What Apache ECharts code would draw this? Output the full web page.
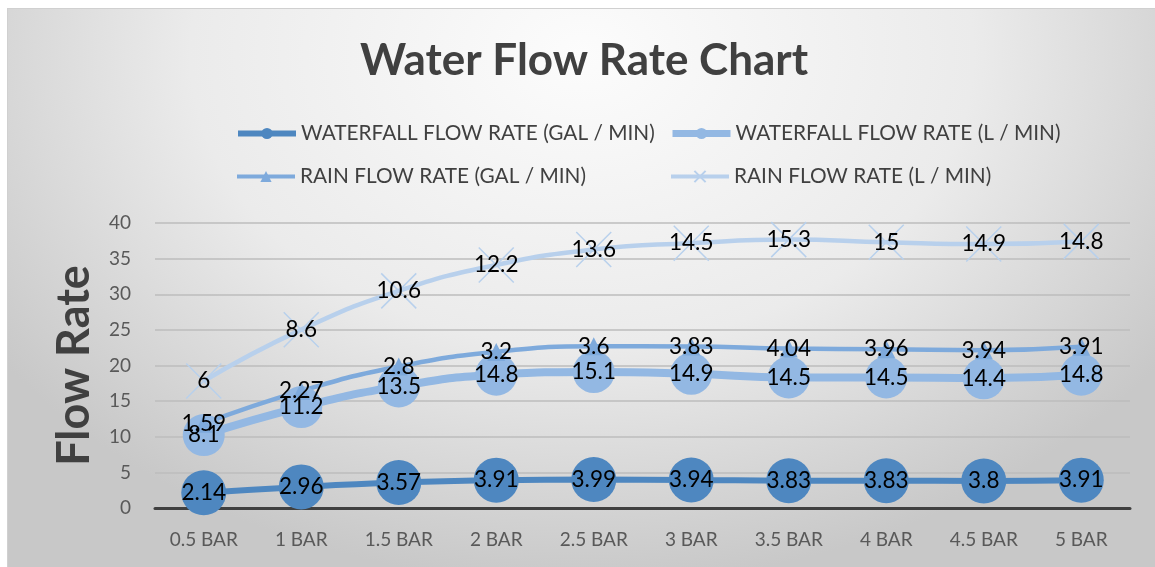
<!DOCTYPE html>
<html>
<head>
<meta charset="utf-8">
<script src="https://cdn.jsdelivr.net/npm/echarts@6/dist/echarts.min.js"></script>
<style>
  html, body { margin: 0; padding: 0; background: #ffffff; }
  #bg {
    position: absolute; left: 7px; top: 8px; width: 1148px; height: 559px;
    border-left: 1px solid #d0d0d0; border-top: 1px solid #d0d0d0;
    background: radial-gradient(ellipse 62% 95% at 50% 8%, #fcfcfc 0%, #ebebeb 55%, #c8c8c8 100%);
  }
  #main { position: absolute; left: 0; top: 0; width: 1155px; height: 567px; }
</style>
</head>
<body>
<div id="bg"></div>
<div id="main"></div>
<script>
// 数据
var categories = ['0.5 BAR', '1 BAR', '1.5 BAR', '2 BAR', '2.5 BAR', '3 BAR', '3.5 BAR', '4 BAR', '4.5 BAR', '5 BAR'];
var seriesNames = ['WATERFALL FLOW RATE (GAL / MIN)', 'WATERFALL FLOW RATE (L / MIN)', 'RAIN FLOW RATE (GAL / MIN)', 'RAIN FLOW RATE (L / MIN)'];
var waterfallGal = [2.14, 2.96, 3.57, 3.91, 3.99, 3.94, 3.83, 3.83, 3.8, 3.91];
var waterfallL = [8.1, 11.2, 13.5, 14.8, 15.1, 14.9, 14.5, 14.5, 14.4, 14.8];
var rainGal = [1.59, 2.27, 2.8, 3.2, 3.6, 3.83, 4.04, 3.96, 3.94, 3.91];
var rainL = [6, 8.6, 10.6, 12.2, 13.6, 14.5, 15.3, 15, 14.9, 14.8];
var yTicks = { min: 0, max: 40, interval: 5 };

(function(){
  var myChart = echarts.init(document.getElementById('main'));
  var fontFam = 'Lato, "Open Sans", sans-serif';
  var labelStyle = {
    show: true,
    position: 'inside',
    color: '#000000',
    fontSize: 22.5,
    fontFamily: fontFam
  };
  var legendText = { color: '#404040', fontSize: 20.8, fontFamily: fontFam };
  // 每个图例单独摆放, 两列对齐
  function oneLegend(name, left, top, lw) {
    return {
      data: [name], left: left, top: top,
      itemWidth: 58, itemHeight: 14, itemGap: 5,
      lineStyle: { width: lw },
      textStyle: legendText
    };
  }
  var option = {
    backgroundColor: 'transparent',
    animation: false,
    title: {
      text: 'Water Flow Rate Chart',
      left: 355,
      top: 34,
      textStyle: { color: '#404040', fontSize: 44, fontWeight: 'bold', fontFamily: fontFam }
    },
    legend: [
      oneLegend(seriesNames[0], 230, 118, 6),
      oneLegend(seriesNames[1], 664, 118, 7),
      oneLegend(seriesNames[2], 230, 161, 4),
      oneLegend(seriesNames[3], 664, 161, 4)
    ],
    grid: { left: 155, right: 25, top: 223, bottom: 59 },
    xAxis: {
      type: 'category',
      data: categories,
      boundaryGap: true,
      axisLine: { lineStyle: { color: '#404040', width: 3 } },
      axisTick: { show: false },
      axisLabel: { color: '#595959', fontSize: 19, fontFamily: fontFam, margin: 22 }
    },
    yAxis: {
      type: 'value',
      min: yTicks.min,
      max: yTicks.max,
      interval: yTicks.interval,
      name: 'Flow Rate',
      nameLocation: 'middle',
      nameGap: 58,
      nameTextStyle: { color: '#404040', fontSize: 45, fontWeight: 'bold', fontFamily: fontFam },
      axisLine: { show: false },
      axisTick: { show: false },
      axisLabel: { color: '#595959', fontSize: 19, fontFamily: fontFam, margin: 24 },
      splitLine: { lineStyle: { color: '#bdbdbd', width: 1.5 } }
    },
    series: [
      {
        name: seriesNames[0], type: 'line', stack: 'total', smooth: true,
        data: waterfallGal, color: '#4e87c0',
        symbol: 'circle', symbolSize: 45, showAllSymbol: true,
        lineStyle: { width: 6 },
        label: labelStyle
      },
      {
        name: seriesNames[1], type: 'line', stack: 'total', smooth: true,
        data: waterfallL, color: '#93b8e3',
        symbol: 'circle', symbolSize: 42, showAllSymbol: true,
        lineStyle: { width: 8 },
        label: labelStyle
      },
      {
        name: seriesNames[2], type: 'line', stack: 'total', smooth: true,
        data: rainGal, color: '#7eaadc',
        symbol: 'triangle', symbolSize: 18, showAllSymbol: true,
        lineStyle: { width: 4.5 },
        label: labelStyle
      },
      {
        name: seriesNames[3], type: 'line', stack: 'total', smooth: true,
        data: rainL, color: '#b8d0ec',
        symbol: 'path://M0,0L10,10M10,0L0,10', symbolSize: 35, showAllSymbol: true,
        itemStyle: { borderColor: '#b8d0ec', borderWidth: 1.5 },
        lineStyle: { width: 4.5 },
        label: labelStyle
      }
    ]
  };
  myChart.setOption(option);
  window.addEventListener('resize', function(){
    myChart.resize();
  });
})();
</script>
</body>
</html>
